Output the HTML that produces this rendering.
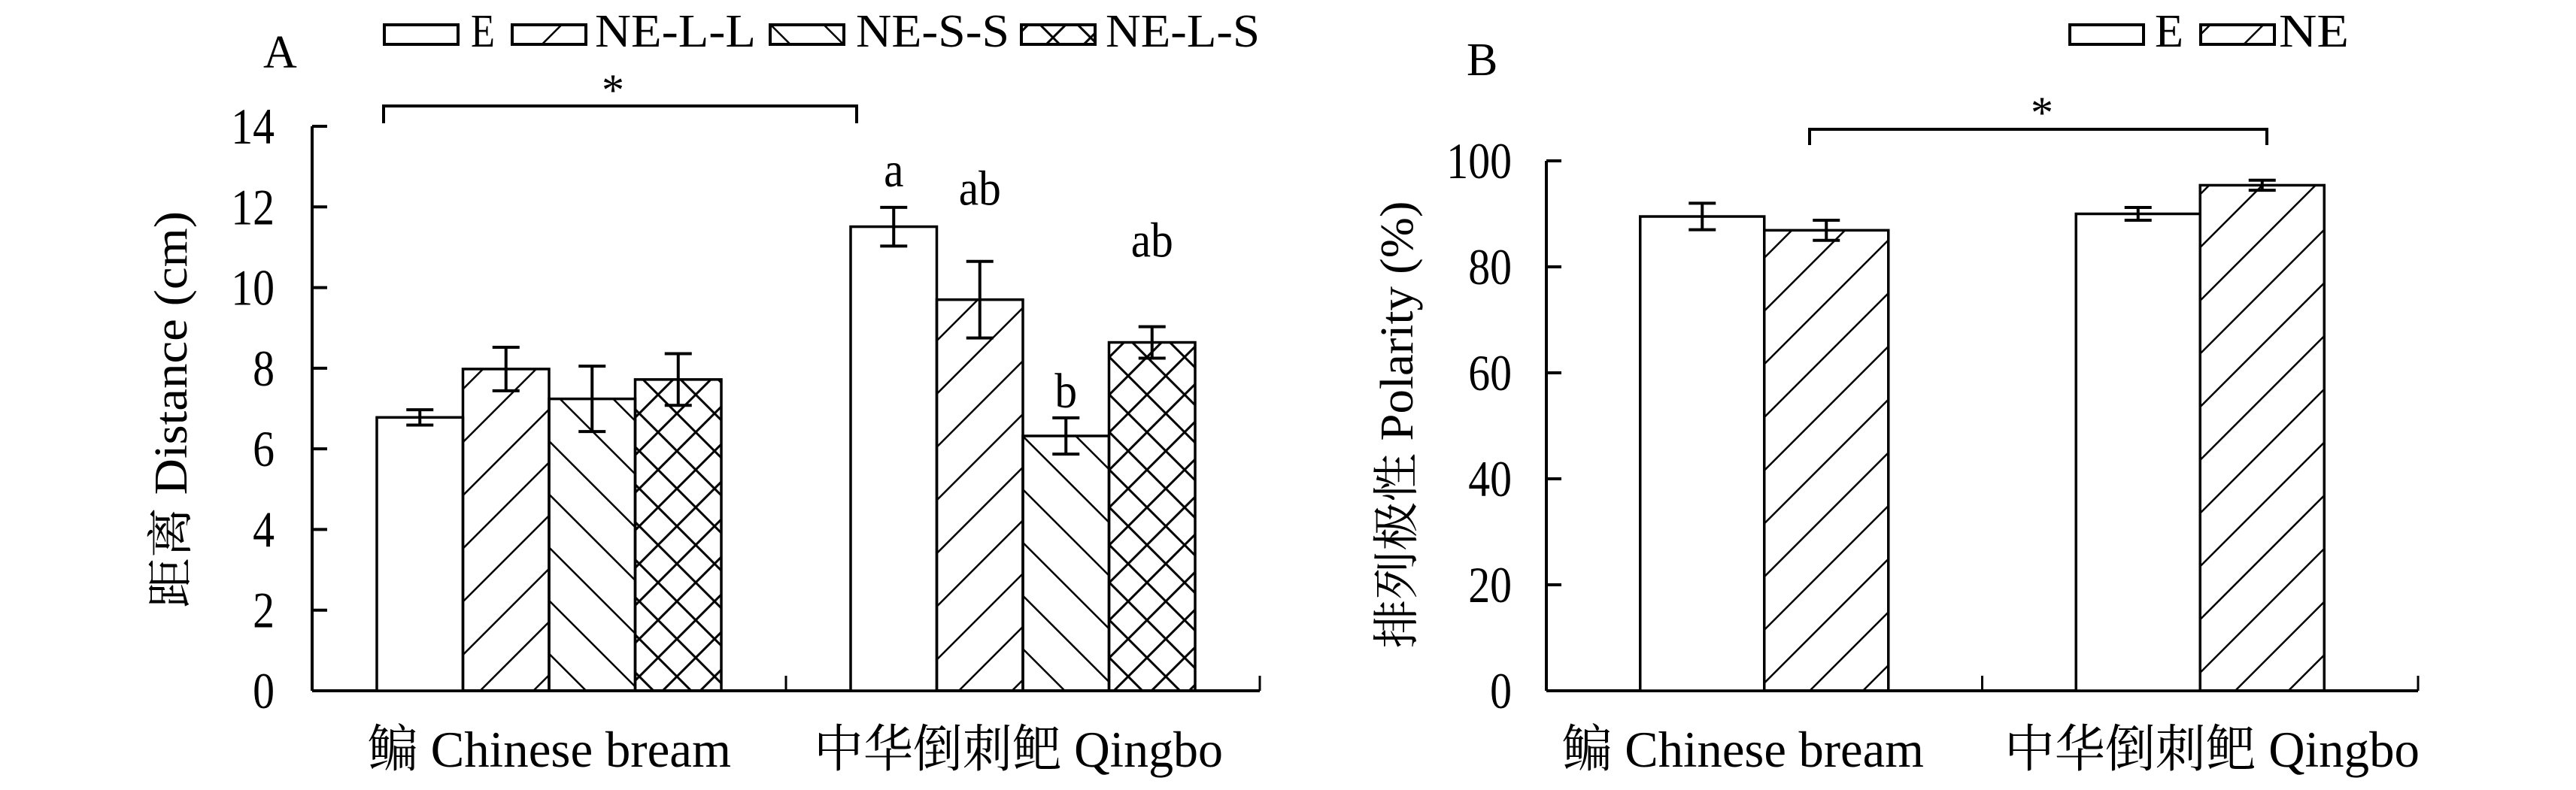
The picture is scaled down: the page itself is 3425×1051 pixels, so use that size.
<!DOCTYPE html>
<html><head><meta charset="utf-8"><style>
html,body{margin:0;padding:0;background:#fff;}
svg{display:block;font-family:"Liberation Serif","Noto Serif CJK SC","Noto Sans CJK SC",serif;}
</style></head><body>
<svg id="chart" width="3425" height="1051" viewBox="0 0 3425 1051" xmlns="http://www.w3.org/2000/svg">
<defs>
<pattern id="hatchR" patternUnits="userSpaceOnUse" width="50" height="50" patternTransform="rotate(45)"><line x1="0" y1="0" x2="0" y2="50" stroke="#000" stroke-width="5"/></pattern>
<pattern id="hatchL" patternUnits="userSpaceOnUse" width="50" height="50" patternTransform="rotate(-45)"><line x1="0" y1="0" x2="0" y2="50" stroke="#000" stroke-width="5"/></pattern>
<pattern id="hatchX" patternUnits="userSpaceOnUse" width="50" height="50"><path d="M0,0 L50,50 M50,0 L0,50 M-25,25 L25,75 M25,-25 L75,25 M75,25 L25,75 M25,-25 L-25,25" stroke="#000" stroke-width="3"/></pattern>
</defs>
<g id="panelA"></g>
<g id="panelB"></g>
</svg>
<script>
// Panel A data
const aCategories = ["鳊 Chinese bream", "中华倒刺鲃 Qingbo"];
const aSeries = ["E", "NE-L-L", "NE-S-S", "NE-L-S"];
const aValues = [[6.78, 7.98, 7.24, 7.72], [11.51, 9.70, 6.32, 8.64]];
const aErrors = [[0.19, 0.54, 0.81, 0.64], [0.48, 0.95, 0.45, 0.39]];
const aLetters = [["", "", "", ""], ["a", "ab", "b", "ab"]];
const aTicks = [0, 2, 4, 6, 8, 10, 12, 14];
// Panel B data
const bCategories = ["鳊 Chinese bream", "中华倒刺鲃 Qingbo"];
const bSeries = ["E", "NE"];
const bValues = [[89.5, 86.9], [90.0, 95.4]];
const bErrors = [[2.5, 1.9], [1.2, 0.95]];
const bTicks = [0, 20, 40, 60, 80, 100];

const letterGap = [28, 75, 14, 93];
const NS = "http://www.w3.org/2000/svg";
const fills = {"E":"#fff","NE-L-L":"url(#hatchR)","NE-S-S":"url(#hatchL)","NE-L-S":"url(#hatchX)","NE":"url(#hatchR)"};
function mk(parent, tag, attrs, text){
  const e = document.createElementNS(NS, tag);
  for (const k in attrs) e.setAttribute(k, attrs[k]);
  if (text !== undefined) e.textContent = text;
  parent.appendChild(e); return e;
}
function drawPanel(cfg){
  const g = document.getElementById(cfg.id);
  const y = v => cfg.y0 - (v - 0) / cfg.max * (cfg.y0 - cfg.yTop);
  const ax = mk(g, "line", {x1:cfg.ax, y1:y(cfg.max), x2:cfg.ax, y2:cfg.y0, stroke:"#000","stroke-width":4});
  
  
  const xa = mk(g, "line", {x1:cfg.ax, y1:cfg.y0, x2:cfg.axEnd, y2:cfg.y0, stroke:"#000","stroke-width":4});
  
  
  const mid = (cfg.ax + cfg.axEnd) / 2;
  [mid, cfg.axEnd].forEach(x => {
    const t = mk(g, "line", {x1:x, y1:cfg.y0, x2:x, y2:cfg.y0-20, stroke:"#000","stroke-width":3});
    
    
  });
  cfg.ticks.forEach(v => {
    const t = mk(g, "line", {x1:cfg.ax, y1:y(v), x2:cfg.ax+20, y2:y(v), stroke:"#000","stroke-width":4});
    
    
    const lb = mk(g, "text", {x:cfg.tickX, y:y(v)+23, "text-anchor":"end","font-size":68, transform:`translate(${cfg.tickX},0) scale(0.85,1) translate(${-cfg.tickX},0)`}, String(v));
    
    
  });
  const gw = (cfg.axEnd - cfg.ax) / cfg.cats.length;
  cfg.cats.forEach((c, ci) => {
    const n = cfg.series.length;
    const start = cfg.ax + gw*ci + gw/2 - n*cfg.bw/2;
    cfg.series.forEach((s, si) => {
      const v = cfg.values[ci][si], e = cfg.errors[ci][si];
      const x = start + si*cfg.bw, cx = x + cfg.bw/2;
      const r = mk(g, "rect", {x:x, y:y(v), width:cfg.bw, height:cfg.y0-y(v), fill:fills[s], stroke:"#000","stroke-width":3.5});
      
      
      const eb = mk(g, "path", {d:`M${cx},${y(v+e)}V${y(v-e)}M${cx-18},${y(v+e)}H${cx+18}M${cx-18},${y(v-e)}H${cx+18}`, stroke:"#000","stroke-width":4, fill:"none"});
      
      
      if (cfg.letters && cfg.letters[ci][si]) {
        const L = cfg.letters[ci][si];
        const ly = y(v + e) - letterGap[si];
        const lt = mk(g, "text", {x:cx, y:ly, "text-anchor":"middle","font-size":66, transform:`translate(${cx},0) scale(0.9,1) translate(${-cx},0)`}, L);
        
        
      }
    });
    const cl = mk(g, "text", {x:cfg.catX[ci], y:1020, "font-size":68, textLength:cfg.catW[ci], lengthAdjust:"spacingAndGlyphs"}, c);
    
    
  });
}
drawPanel({id:"panelA", ax:415, axEnd:1675, y0:919, yTop:168, max:14, bw:114.5, ticks:aTicks, tickX:365,
  cats:aCategories, series:aSeries, values:aValues, errors:aErrors, letters:aLetters, catX:[489,1082], catW:[483,544]});
drawPanel({id:"panelB", ax:2056, axEnd:3215, y0:919, yTop:214, max:100, bw:165, ticks:bTicks, tickX:2010,
  cats:bCategories, series:bSeries, values:bValues, errors:bErrors, letters:null, catX:[2077,2665], catW:[481,552]});
</script>
<script>
const s = document.getElementById("chart");
function add(tag, attrs, text, name){
  const e = document.createElementNS("http://www.w3.org/2000/svg", tag);
  for (const k in attrs) e.setAttribute(k, attrs[k]);
  if (text !== undefined && text !== null) e.textContent = text;
  
  
  s.appendChild(e); return e;
}
add("text", {x:350, y:90, "font-size":62}, "A", "panel-label-a");
add("text", {x:1950, y:100, "font-size":62}, "B", "panel-label-b");
add("text", {x:0, y:0, "font-size":62, transform:"translate(248,545) rotate(-90)", "text-anchor":"middle", textLength:528, lengthAdjust:"spacingAndGlyphs"}, "距离 Distance (cm)", "y-axis-title-a");
add("text", {x:0, y:0, "font-size":62, transform:"translate(1878,565) rotate(-90)", "text-anchor":"middle", textLength:595, lengthAdjust:"spacingAndGlyphs"}, "排列极性 Polarity (%)", "y-axis-title-b");
add("path", {d:"M510,164V141H1139V164", stroke:"#000","stroke-width":4, fill:"none"}, null, "significance-bracket-a");
add("text", {x:815, y:140, "font-size":60, "text-anchor":"middle"}, "*", "significance-star-a");
add("path", {d:"M2406,193V172H3014V193", stroke:"#000","stroke-width":4, fill:"none"}, null, "significance-bracket-b");
add("text", {x:2715, y:170, "font-size":60, "text-anchor":"middle"}, "*", "significance-star-b");
const legA = [["#fff",511,"E",626,32],["url(#hatchR)",681,"NE-L-L",791,214],["url(#hatchL)",1024,"NE-S-S",1138,204],["url(#hatchX)",1358,"NE-L-S",1470,205]];
legA.forEach(l => {
  add("rect", {x:l[1], y:33, width:98, height:26, fill:l[0], stroke:"#000","stroke-width":4}, null, "legend-swatch");
  add("text", {x:l[3], y:62, "font-size":62, textLength:l[4], lengthAdjust:"spacingAndGlyphs"}, l[2], "legend-entry");
});
const legB = [["#fff",2752,"E",2865,38],["url(#hatchR)",2926,"NE",3030,93]];
legB.forEach(l => {
  add("rect", {x:l[1], y:33, width:98, height:26, fill:l[0], stroke:"#000","stroke-width":4}, null, "legend-swatch");
  add("text", {x:l[3], y:62, "font-size":62, textLength:l[4], lengthAdjust:"spacingAndGlyphs"}, l[2], "legend-entry");
});
</script>
</body></html>
